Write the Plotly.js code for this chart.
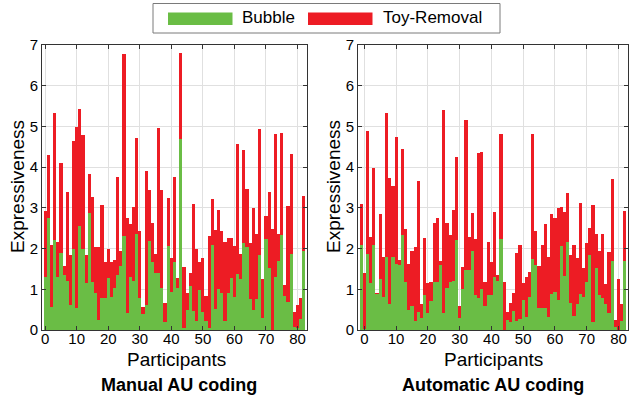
<!DOCTYPE html>
<html>
<head>
<meta charset="utf-8">
<script src="https://cdn.plot.ly/plotly-3.0.1.min.js"></script>
<style>html,body{margin:0;padding:0;background:#fff;}#chart{width:630px;height:398px;}</style>
</head>
<body>
<div id="chart"></div>
<script>
// Participants (x positions of the bars)
const participantsManual = [0,1,2,3,4,5,6,7,8,9,10,11,12,13,14,15,16,17,18,19,20,21,22,23,24,25,26,27,28,29,30,31,32,33,34,35,36,37,38,39,40,41,42,43,44,45,46,47,48,49,50,51,52,53,54,55,56,57,58,59,60,61,62,63,64,65,66,67,68,69,70,71,72,73,74,75,76,77,78,79,80,81,82];
const participantsAuto = [-1,0,1,2,3,4,5,6,7,8,9,10,11,12,13,14,15,16,17,18,19,20,21,22,23,24,25,26,27,28,29,30,31,32,33,34,35,36,37,38,39,40,41,42,43,44,45,46,47,48,49,50,51,52,53,54,55,56,57,58,59,60,61,62,63,64,65,66,67,68,69,70,71,72,73,74,75,76,77,78,79,80,81,82];

// Manual AU coding
const manualBubble = [1.31,2.75,0.57,2.2,1.3,1.89,1.35,1.2,0.61,1.98,0.53,2.56,1.98,1.15,2.87,1.19,0.9,0.25,0.78,0.78,1.27,0.82,1.02,1.34,1.56,2.3,0.41,1.31,1.2,2.36,0.78,0.39,0.61,2.19,1.68,1.4,1.4,1.02,0.19,2.07,0.94,1.66,1.02,4.7,0.06,0.49,1.07,0.47,0.23,0.98,0.45,0.23,0.06,2.1,0.52,1.0,0.9,0.22,0.9,1.27,0.8,1.38,1.25,2.13,2.05,0.76,0.49,0.76,1.83,0.3,2.24,1.52,0,1.3,1.7,2.34,0.84,0.7,1.87,0.07,0.05,0.27,1.94];
const manualToy = [1.62,1.55,1.52,3.14,0.86,2.21,0.23,2.18,1.22,2.65,4.45,2.87,2.82,0.68,0.97,2.07,1.13,1.78,2.28,0.89,0.73,0.86,0.7,2.41,0.37,4.48,2.35,1.29,1.82,2.35,1.65,0.18,3.29,1.24,0.94,0.47,3.56,2.42,0.48,1.17,0.84,2.11,0.25,2.1,1.49,0.41,0.32,2.63,1.76,0.68,1.31,0.61,2.25,1.12,1.94,1.95,1.52,1.93,1.35,1.0,1.27,3.19,0.62,2.3,1.42,1.37,2.51,1.6,3.11,0.95,0.56,1.88,2.48,3.51,0.66,2.5,0.27,2.35,2.45,0.36,0.56,0.51,1.36];

// Automatic AU coding
const autoBubble = [2.1,0.02,1.87,1.16,2.09,0.88,1.25,0.82,1.8,0.63,1.8,1.61,1.6,2.34,1.19,0.49,0.6,0.23,0.45,0.3,0.86,0.41,0.72,1.19,1.19,1.6,0.41,1.02,1.19,1.2,2.2,0.3,1.0,1.48,1.48,1.93,0.86,0.78,1.0,0.6,0.86,0.86,1.31,1.2,2.24,0,0.25,0.2,0.47,0.23,0.26,0.74,0.33,0.82,1.75,1.6,0.53,0.55,0.53,0.33,0.88,0.93,0.74,2.07,1.33,2.15,0.67,0.34,0.63,0.88,0.82,1.19,1.84,0.19,1.52,0.86,0.78,0.63,0.41,1.7,0.07,0,0.22,1.7];
const autoToy = [1.0,1.39,3.01,1.12,1.89,0.04,1.6,0.98,3.54,3.1,1.74,3.14,0.12,2.11,1.29,1.13,1.34,1.82,3.22,0.33,1.39,0.74,0.47,1.43,1.57,0.1,5.0,1.6,1.15,1.75,2.04,0.29,0.54,3.68,0.8,0.94,1.37,3.56,3.38,0.59,1.31,0.82,1.58,0.14,2.58,1.17,0.18,0.47,0.43,1.66,1.83,0.41,0.98,0.6,3.07,0.82,1.03,1.54,2.07,1.47,1.97,1.83,2.25,0.95,1.58,1.21,1.16,1.76,1.15,2.25,0.7,0.94,0.66,2.88,0.84,1.08,1.57,0.49,1.5,2.01,0.18,1.25,0.43,1.23];

const xTicks = [0,10,20,30,40,50,60,70,80];
const yTicks = [0,1,2,3,4,5,6,7];
const seriesNames = ['Bubble','Toy-Removal'];
const panelTitles = ['Manual AU coding','Automatic AU coding'];
const xTitle = 'Participants';
const yTitle = 'Expressiveness';

const GREEN = '#6abd45';
const RED = '#ed1c24';
const FONT = 'Liberation Sans, Arial, Helvetica, sans-serif';
const W = 630, H = 398;
const px = v => v / W;
const py = v => (H - v) / H;

function bar(x, y, name, color, xa, ya) {
  return {type:'bar', x:x, y:y, name:name, xaxis:xa, yaxis:ya, width:1,
          marker:{color:color, line:{width:0}}, showlegend:false, hoverinfo:'skip'};
}

const traces = [
  bar(participantsManual, manualBubble, seriesNames[0], GREEN, 'x', 'y'),
  bar(participantsManual, manualToy, seriesNames[1], RED, 'x', 'y'),
  bar(participantsAuto, autoBubble, seriesNames[0], GREEN, 'x2', 'y2'),
  bar(participantsAuto, autoToy, seriesNames[1], RED, 'x2', 'y2')
];

function xax(domain, anchor, range) {
  return {domain:domain, anchor:anchor, range:range, tickmode:'array', tickvals:xTicks,
    ticks:'inside', ticklen:4, tickcolor:'#333', tickwidth:1, showline:true, linecolor:'#333', linewidth:1,
    mirror:'ticks', showgrid:true, gridcolor:'#e0e0e0', gridwidth:1, zeroline:false, ticklabelstandoff:-5,
    tickfont:{family:FONT, size:15, color:'#000'}, fixedrange:true};
}
function yax(anchor) {
  return {domain:[py(330), py(45)], anchor:anchor, range:[0,7], tickmode:'array', tickvals:yTicks,
    ticks:'inside', ticklen:4, tickcolor:'#333', tickwidth:1, showline:true, linecolor:'#333', linewidth:1,
    mirror:'ticks', showgrid:true, gridcolor:'#e0e0e0', gridwidth:1, zeroline:false,
    tickfont:{family:FONT, size:15, color:'#000'}, fixedrange:true};
}

const ann = [];
function txt(x, y, text, size, opts) {
  ann.push(Object.assign({xref:'paper', yref:'paper', x:px(x), y:py(y), text:text, showarrow:false,
    xanchor:'center', yanchor:'middle', font:{family:FONT, size:size, color:'#000'}}, opts||{}));
}
txt(17, 187, yTitle, 19, {textangle:-90});
txt(333, 187, yTitle, 19, {textangle:-90});
txt(176, 359, xTitle, 19);
txt(493, 359, xTitle, 19);
txt(179, 385, '<b>' + panelTitles[0] + '</b>', 18);
txt(493, 385, '<b>' + panelTitles[1] + '</b>', 18);
txt(240, 18, seriesNames[0], 17, {xanchor:'left'});
txt(381, 18, seriesNames[1], 17, {xanchor:'left'});

const shapes = [
  {type:'rect', xref:'paper', yref:'paper', x0:px(153), x1:px(500), y0:py(3.5), y1:py(33), line:{color:'#7a7a7a', width:1}, fillcolor:'#fff'},
  {type:'rect', xref:'paper', yref:'paper', x0:px(168), x1:px(232.5), y0:py(12.5), y1:py(25), line:{width:0}, fillcolor:GREEN},
  {type:'rect', xref:'paper', yref:'paper', x0:px(308), x1:px(372.5), y0:py(12.5), y1:py(25), line:{width:0}, fillcolor:RED}
];

const layout = {
  width:W, height:H, margin:{l:0,r:0,t:0,b:0}, paper_bgcolor:'#fff', plot_bgcolor:'#fff',
  barmode:'stack', bargap:0, showlegend:false,
  xaxis: xax([px(42), px(307)], 'y', [-1, 83]),
  yaxis: yax('x'),
  xaxis2: xax([px(358), px(628)], 'y2', [-2, 83]),
  yaxis2: yax('x2'),
  annotations: ann, shapes: shapes,
  font:{family:FONT}
};

Plotly.newPlot('chart', traces, layout, {staticPlot:true, displayModeBar:false});
</script>
</body>
</html>
